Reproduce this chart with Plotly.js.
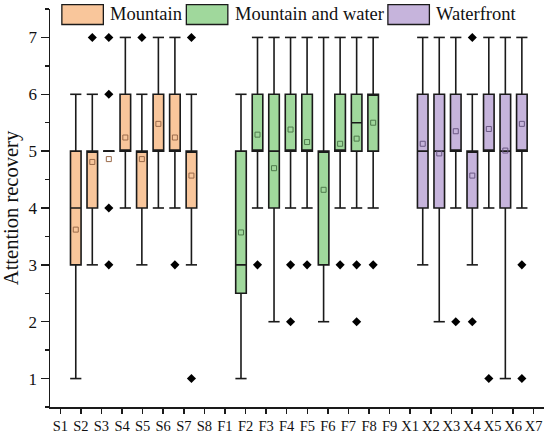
<!DOCTYPE html>
<html>
<head>
<meta charset="utf-8">
<script src="https://cdn.plot.ly/plotly-3.0.1.min.js"></script>
<style>
  html, body { margin: 0; padding: 0; background: #fff; }
  #chart { width: 550px; height: 437px; }
</style>
</head>
<body>
<div id="chart"></div>
<script>
// tick labels along the x axis (they do not line up with the boxes in the source figure)
const tickLabels = ['S1','S2','S3','S4','S5','S6','S7','S8',
                    'F1','F2','F3','F4','F5','F6','F7','F8','F9',
                    'X1','X2','X3','X4','X5','X6','X7'];

// ── Mountain ──
const mountainQ1     = [3, 4, 5, 5, 4, 5, 5, 4];
const mountainMedian = [4, 5, 5, 5, 5, 5, 5, 5];
const mountainQ3     = [5, 5, 5, 6, 5, 6, 6, 5];
const mountainLow    = [1, 3, 5, 4, 3, 4, 4, 3];
const mountainHigh   = [6, 6, 5, 7, 6, 7, 7, 6];
const mountainMean   = [3.62, 4.81, 4.86, 5.24, 4.86, 5.48, 5.24, 4.57];
const mountainOut    = [[], [7], [7, 6, 4, 3], [], [7], [], [3], [7, 1]];

// ── Mountain and water ──
const mwQ1     = [2.5, 5, 4, 5, 5, 3, 5, 5, 5];
const mwMedian = [3, 5, 5, 5, 5, 5, 5, 5.5, 6];
const mwQ3     = [5, 6, 6, 6, 6, 5, 6, 6, 6];
const mwLow    = [1, 4, 2, 4, 4, 2, 4, 4, 4];
const mwHigh   = [6, 7, 7, 7, 7, 7, 7, 7, 7];
const mwMean   = [3.57, 5.29, 4.70, 5.38, 5.16, 4.32, 5.13, 5.22, 5.50];
const mwOut    = [[], [3], [], [3, 2], [3], [], [3], [3, 2], [3]];

// ── Waterfront ──
const waterQ1     = [4, 4, 5, 4, 5, 4, 5];
const waterMedian = [5, 5, 5, 5, 5, 5, 5];
const waterQ3     = [6, 6, 6, 5, 6, 6, 6];
const waterLow    = [3, 2, 4, 3, 4, 1, 4];
const waterHigh   = [7, 7, 7, 6, 7, 7, 7];
const waterMean   = [5.13, 4.96, 5.35, 4.57, 5.39, 5.01, 5.48];
const waterOut    = [[], [], [2], [7, 2], [1], [], [3, 1]];

const FONT = '"Liberation Serif", "Times New Roman", serif';
const GAP = 2;                 // empty slots between the groups
const X_RANGE = [-1.56, 28.34];

const groups = [
  { name: 'Mountain', fill: '#f9c69b', mean: '#9a6a4a',
    q1: mountainQ1, med: mountainMedian, q3: mountainQ3, lo: mountainLow, hi: mountainHigh, avg: mountainMean, out: mountainOut },
  { name: 'Mountain and water', fill: '#a0d89c', mean: '#4e7a4c',
    q1: mwQ1, med: mwMedian, q3: mwQ3, lo: mwLow, hi: mwHigh, avg: mwMean, out: mwOut },
  { name: 'Waterfront', fill: '#c6b4dc', mean: '#6a5884',
    q1: waterQ1, med: waterMedian, q3: waterQ3, lo: waterLow, hi: waterHigh, avg: waterMean, out: waterOut },
];

// slot index of each box
let slot = 0;
groups.forEach(g => {
  g.x = g.q1.map((_, i) => slot + i);
  slot += g.q1.length + GAP;
});

const boxTraces = [], capX = [], capY = [], outX = [], outY = [], meanTraces = [];
groups.forEach(g => {
  boxTraces.push({
    type: 'box', name: g.name, x: g.x,
    q1: g.q1, median: g.med, q3: g.q3, lowerfence: g.lo, upperfence: g.hi,
    width: 0.64, boxpoints: false, whiskerwidth: 0,
    fillcolor: g.fill, line: { color: '#1a1a1a', width: 1.6 },
    hoverinfo: 'skip', showlegend: false,
  });
  g.x.forEach((x, i) => {
    capX.push(x, x); capY.push(g.lo[i], g.hi[i]);
    g.out[i].forEach(v => { outX.push(x); outY.push(v); });
  });
  meanTraces.push({
    type: 'scatter', mode: 'markers', x: g.x, y: g.avg,
    marker: { symbol: 'square-open', size: 5, color: g.mean, line: { width: 1, color: g.mean } },
    hoverinfo: 'skip', showlegend: false,
  });
});

const traces = [
  ...boxTraces,
  // whisker caps
  { type: 'scatter', mode: 'markers', x: capX, y: capY,
    marker: { symbol: 'line-ew', size: 8, line: { width: 1.6, color: '#1a1a1a' } },
    hoverinfo: 'skip', showlegend: false },
  // outliers
  { type: 'scatter', mode: 'markers', x: outX, y: outY,
    marker: { symbol: 'diamond', size: 7, color: '#000' },
    hoverinfo: 'skip', showlegend: false },
  ...meanTraces,
];

// tick labels are spread evenly over the whole axis width
const span = X_RANGE[1] - X_RANGE[0];
const tickVals = tickLabels.map((_, j) => X_RANGE[0] + (j + 0.5) * span / tickLabels.length);

// hand-made legend across the top
const legendX = [0.024, 0.276, 0.684];
const shapes = [], annotations = [];
groups.forEach((g, i) => {
  shapes.push({
    type: 'rect', xref: 'paper', yref: 'paper',
    x0: legendX[i], x1: legendX[i] + 0.084, y0: 0.961, y1: 1.011,
    fillcolor: g.fill, line: { color: '#1a1a1a', width: 1.3 },
  });
  annotations.push({
    xref: 'paper', yref: 'paper', x: legendX[i] + 0.094, y: 0.987,
    xanchor: 'left', yanchor: 'middle', showarrow: false,
    text: g.name, font: { family: FONT, size: 18.5, color: '#111' },
  });
});

const layout = {
  width: 550, height: 437,
  margin: { l: 50, r: 6, t: 9, b: 30 },
  paper_bgcolor: '#ffffff', plot_bgcolor: '#ffffff',
  boxmode: 'overlay', showlegend: false,
  font: { family: FONT, color: '#111' },
  xaxis: {
    range: X_RANGE, tickmode: 'array', tickvals: tickVals, ticktext: tickLabels,
    ticks: 'outside', ticklen: 5, tickwidth: 1.5, tickcolor: '#1a1a1a',
    showline: true, linecolor: '#1a1a1a', linewidth: 1.5,
    showgrid: false, zeroline: false,
    tickfont: { family: FONT, size: 14.5, color: '#111' },
  },
  yaxis: {
    range: [0.5, 7.5], dtick: 1, tick0: 0,
    ticks: 'outside', ticklen: 8, tickwidth: 1.5, tickcolor: '#1a1a1a',
    minor: { dtick: 0.5, ticks: 'outside', ticklen: 4, tickwidth: 1.5, tickcolor: '#1a1a1a', showgrid: false },
    showline: true, linecolor: '#1a1a1a', linewidth: 1.5,
    showgrid: false, zeroline: false,
    tickfont: { family: FONT, size: 17, color: '#111' },
    title: { text: 'Attention recovery', font: { family: FONT, size: 20.5, color: '#111' }, standoff: 6 },
  },
  shapes, annotations,
};

Plotly.newPlot('chart', traces, layout, { displayModeBar: false, staticPlot: true });
</script>
</body>
</html>
